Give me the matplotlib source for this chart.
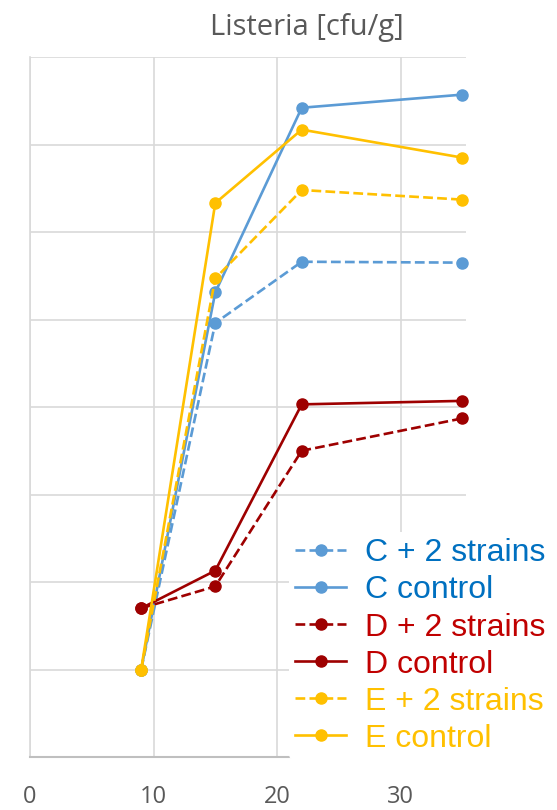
import matplotlib
matplotlib.use("Agg")
import matplotlib.pyplot as plt

# sampling days
days = [9, 15, 22, 35]

# log counts, in grid units
c_strains = [1.0, 4.96, 5.66, 5.65]
c_control = [1.0, 5.31, 7.42, 7.57]
d_strains = [1.70, 1.95, 3.50, 3.87]
d_control = [1.70, 2.13, 4.03, 4.07]
e_strains = [1.0, 5.47, 6.48, 6.37]
e_control = [1.0, 6.33, 7.17, 6.85]

labels = ["C + 2 strains", "C control", "D + 2 strains", "D control",
          "E + 2 strains", "E control"]
series = [c_strains, c_control, d_strains, d_control, e_strains, e_control]
line_colors = ["#5B9BD5", "#5B9BD5", "#9E0000", "#9E0000", "#FFC000", "#FFC000"]
text_colors = ["#0070C0", "#0070C0", "#C00000", "#C00000", "#FFC000", "#FFC000"]
styles = ["--", "-", "--", "-", "--", "-"]

fig = plt.figure(figsize=(5.57, 8.10), dpi=100)
ax = fig.add_axes([30 / 557, 53 / 810, 436 / 557, 700 / 810])

for vals, lab, col, ls in zip(series, labels, line_colors, styles):
    ax.plot(days, vals, linestyle=ls, color=col, linewidth=1.9,
            marker="o", markersize=8, label=lab, clip_on=False, zorder=3)

ax.set_xlim(0, 35.3)
ax.set_ylim(0, 8)
ax.set_xticks([0, 10, 20, 30])
ax.set_yticks(range(0, 9))
ax.set_yticklabels([])
ax.tick_params(axis="both", length=0)
ax.tick_params(axis="x", pad=20, labelsize=17, labelcolor="#595959")
for t in ax.get_xticklabels():
    t.set_family("Open Sans")
ax.grid(True, color="#D9D9D9", linewidth=1.2)
ax.set_axisbelow(True)

for side in ["top", "right"]:
    ax.spines[side].set_visible(False)
ax.spines["left"].set_color("#D9D9D9")
ax.spines["left"].set_linewidth(1.2)
ax.spines["bottom"].set_color("#BFBFBF")
ax.spines["bottom"].set_linewidth(1.5)

leg = ax.legend(loc="lower right", bbox_to_anchor=(552 / 557, 50 / 810),
                bbox_transform=fig.transFigure, frameon=True,
                facecolor="white", edgecolor="none", framealpha=1,
                prop={"family": "Liberation Sans", "size": 23},
                handlelength=1.6, handletextpad=0.6, labelspacing=0.22,
                borderpad=0.2, borderaxespad=0)
leg.set_zorder(5)
for txt, col in zip(leg.get_texts(), text_colors):
    txt.set_color(col)

fig.text(307 / 557, 1 - 27 / 810, "Listeria [cfu/g]", ha="center", va="center",
         fontsize=21, color="#595959", family="Open Sans")

fig.savefig("out.png", dpi=100)
